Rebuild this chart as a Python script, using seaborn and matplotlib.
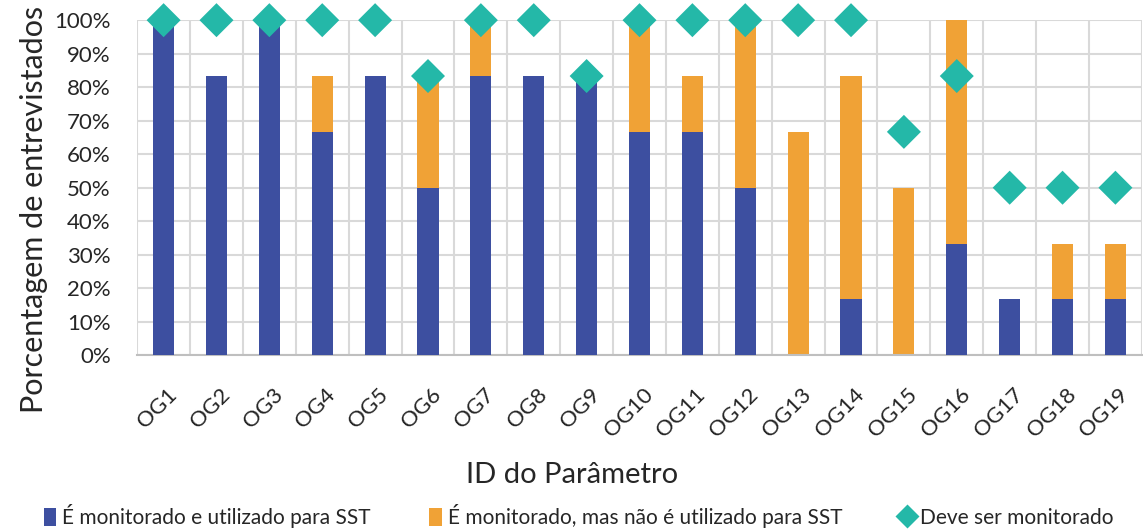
import matplotlib
matplotlib.use("Agg")
import matplotlib.pyplot as plt
import matplotlib.transforms as mtransforms
from matplotlib.lines import Line2D
from matplotlib.patches import Patch
from matplotlib.ticker import PercentFormatter, MultipleLocator
import numpy as np
import pandas as pd
import seaborn as sns

# Parameter IDs and shares of interviewees (%)
categories = [f"OG{i}" for i in range(1, 20)]
used_for_sst = [100, 83.33, 100, 66.67, 83.33, 50, 83.33, 83.33, 83.33, 66.67,
                66.67, 50, 0, 16.67, 0, 33.33, 16.67, 16.67, 16.67]
monitored_not_used = [0, 0, 0, 16.67, 0, 33.33, 16.67, 0, 0, 33.33,
                      16.67, 50, 66.67, 66.67, 50, 66.67, 0, 16.67, 16.67]
should_monitor = [100, 100, 100, 100, 100, 83.33, 100, 100, 83.33, 100,
                  100, 100, 100, 100, 66.67, 83.33, 50, 50, 50]

labels = ["É monitorado e utilizado para SST",
          "É monitorado, mas não é utilizado para SST",
          "Deve ser monitorado"]

BLUE = "#3D4FA0"
ORANGE = "#F0A236"
TEAL = "#24B8A8"
GRID = "#D9D9D9"
TEXT = "#262626"

sns.set_theme(style="white")
plt.rcParams["font.family"] = ["Lato", "DejaVu Sans"]

df = pd.DataFrame({
    "id": categories,
    "used": used_for_sst,
    "total": np.array(used_for_sst) + np.array(monitored_not_used),
    "should": should_monitor,
})

fig = plt.figure(figsize=(11.43, 5.31), dpi=100)
ax = fig.add_axes([0.12, 0.331, 0.879, 0.631])

# Stacked bars: full height in orange, blue part drawn on top
sns.barplot(data=df, x="id", y="total", color=ORANGE, width=0.4,
            saturation=1, linewidth=0, ax=ax, zorder=2)
sns.barplot(data=df, x="id", y="used", color=BLUE, width=0.4,
            saturation=1, linewidth=0, ax=ax, zorder=3)
sns.scatterplot(data=df, x="id", y="should", marker="D", s=300,
                color=TEAL, edgecolor="none", ax=ax, zorder=4, clip_on=False)

ax.set_xlim(-0.5, len(categories) - 0.5)
ax.set_ylim(0, 100)
ax.yaxis.set_major_locator(MultipleLocator(10))
ax.yaxis.set_major_formatter(PercentFormatter(decimals=0))

# Gridlines: horizontal at every 10 %, vertical between categories
ax.grid(axis="y", color=GRID, linewidth=1.5, zorder=0)
for xb in np.arange(-0.5, len(categories), 1.0):
    ax.axvline(xb, color=GRID, linewidth=1.5, zorder=0)
ax.set_axisbelow(True)

for side in ["top", "right", "left"]:
    ax.spines[side].set_visible(False)
ax.spines["bottom"].set_color("#BFBFBF")
ax.spines["bottom"].set_linewidth(1.5)

ax.tick_params(axis="both", length=0, colors=TEXT)
ax.tick_params(axis="y", pad=19, labelsize=16)
ax.tick_params(axis="x", pad=21, labelsize=16)
# rotated category labels, nudged slightly to the right
shift = mtransforms.ScaledTranslation(3 / 100, 0, fig.dpi_scale_trans)
for lab in ax.get_xticklabels():
    lab.set_rotation(45)
    lab.set_ha("right")
    lab.set_rotation_mode("anchor")
    lab.set_transform(lab.get_transform() + shift)

ax.set_xlabel("ID do Parâmetro", fontsize=21, color=TEXT)
ax.xaxis.set_label_coords(0.433, -0.318)
ax.set_ylabel("Porcentagem de entrevistados", fontsize=22, color=TEXT)
ax.yaxis.set_label_coords(-0.089, 0.435)

handles = [
    Patch(facecolor=BLUE, edgecolor="none"),
    Patch(facecolor=ORANGE, edgecolor="none"),
    Line2D([0], [0], marker="D", color="none", markerfacecolor=TEAL,
           markeredgecolor="none", markersize=12),
]
fig.legend(handles, labels, loc="lower center", ncol=3, frameon=False,
           fontsize=15, bbox_to_anchor=(0.506, -0.03), columnspacing=2.8,
           handlelength=0.6, handleheight=0.9, handletextpad=0.3,
           labelcolor=TEXT)

fig.savefig("out.png", dpi=100)
